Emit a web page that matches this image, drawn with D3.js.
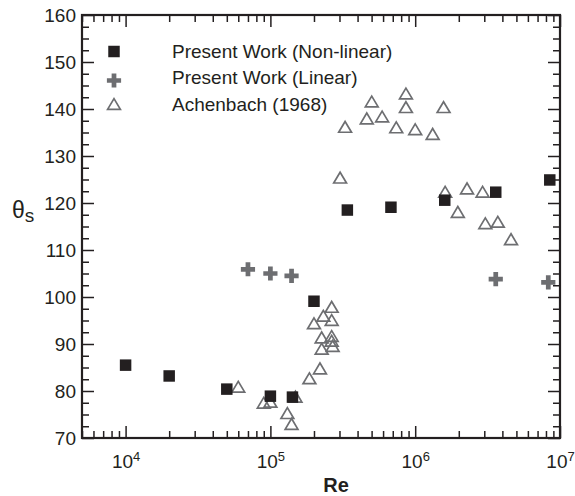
<!DOCTYPE html>
<html>
<head>
<meta charset="utf-8">
<script src="https://d3js.org/d3.v7.min.js"></script>
<style>
  html, body { margin: 0; padding: 0; background: #fff; }
  svg { display: block; font-family: "Liberation Sans", Arial, sans-serif; }
</style>
</head>
<body>
<svg id="chart" width="575" height="496"></svg>
<script>
// ---- Data ----
const nonlinearRe    = [1e4, 2e4, 5e4, 1e5, 1.42e5, 2e5, 3.4e5, 6.8e5, 1.6e6, 3.6e6, 8.5e6];
const nonlinearTheta = [85.5, 83.2, 80.4, 78.9, 78.7, 99.1, 118.5, 119.1, 120.6, 122.3, 124.9];

const linearRe    = [7e4, 1e5, 1.4e5, 3.6e6, 8.3e6];
const linearTheta = [105.9, 105.0, 104.5, 103.8, 103.1];

const achenbachRe = [6e4, 9e4, 1.0e5, 1.49e5, 1.31e5, 1.4e5, 1.86e5, 2.2e5,
  2.65e5, 2.32e5, 2.65e5, 2.0e5, 2.26e5, 2.65e5, 2.65e5, 2.69e5, 2.26e5,
  3.03e5, 3.28e5, 4.63e5, 5.01e5, 5.91e5, 7.4e5, 8.63e5, 8.63e5, 1.0e6, 1.32e6, 1.57e6,
  1.61e6, 2.28e6, 2.92e6, 1.97e6, 3.05e6, 3.72e6, 4.59e6];
const achenbachTheta = [80.9, 77.5, 77.7, 78.8, 75.3, 73.0, 82.7, 84.8,
  97.9, 96.0, 95.1, 94.4, 91.4, 91.7, 90.7, 89.6, 89.0,
  125.4, 136.2, 138.0, 141.6, 138.4, 136.1, 143.3, 140.4, 135.7, 134.7, 140.4,
  122.4, 123.1, 122.4, 118.1, 115.7, 116.0, 112.3];

const yMajorTicks = [70, 80, 90, 100, 110, 120, 130, 140, 150, 160];
const xMajorExps  = [4, 5, 6, 7];
const legendLabels = ["Present Work (Non-linear)", "Present Work (Linear)", "Achenbach (1968)"];

// ---- Layout ----
const W = 575, H = 496;
const L = 82, R = 560, T = 15, B = 438;
const ink = "#231f20", gray = "#6d6e71";

const svg = d3.select("#chart");
const x = d3.scaleLog().domain([5000, 1e7]).range([L, R]);
const y = d3.scaleLinear().domain([70, 160]).range([B, T]);

// minor ticks
const xMinor = [];
for (let e = 3; e <= 6; e++) for (let m = 1; m <= 9; m++) {
  const v = m * Math.pow(10, e);
  if (v >= 5000 && v <= 1e7 && m !== 1) xMinor.push(v);
}
const yMinor = d3.range(70, 160.01, 2.5).filter(v => v % 10 !== 0);

const majLen = 12, minLen = 7;

function styleAxis(g) {
  g.select(".domain").remove();
  g.selectAll(".tick line").attr("stroke", ink).attr("stroke-width", 1.5);
  g.selectAll(".tick text").attr("fill", ink);
}

// Left axis
const gl = svg.append("g").attr("transform", `translate(${L},0)`)
  .call(d3.axisLeft(y).tickValues(yMajorTicks).tickSize(-majLen).tickPadding(6).tickFormat(d3.format("d")));
gl.call(styleAxis);
gl.selectAll(".tick text").attr("font-size", 19);
svg.append("g").attr("transform", `translate(${L},0)`)
  .call(d3.axisLeft(y).tickValues(yMinor).tickSize(-minLen).tickFormat(""))
  .call(styleAxis);

// Right axis
svg.append("g").attr("transform", `translate(${R},0)`)
  .call(d3.axisRight(y).tickValues(yMajorTicks).tickSize(-majLen).tickFormat(""))
  .call(styleAxis);
svg.append("g").attr("transform", `translate(${R},0)`)
  .call(d3.axisRight(y).tickValues(yMinor).tickSize(-minLen).tickFormat(""))
  .call(styleAxis);

// Bottom axis
const xMajorVals = xMajorExps.map(e => Math.pow(10, e));
const gb = svg.append("g").attr("transform", `translate(0,${B})`)
  .call(d3.axisBottom(x).tickValues(xMajorVals).tickSize(-majLen).tickPadding(17).tickFormat(""));
gb.call(styleAxis);
gb.selectAll(".tick").each(function(d, i) {
  const t = d3.select(this).select("text")
    .attr("font-size", 19).attr("dy", "0.71em").attr("text-anchor", "middle");
  t.append("tspan").text("10");
  t.append("tspan").attr("font-size", 13).attr("dy", "-0.55em").text(xMajorExps[i]);
});
svg.append("g").attr("transform", `translate(0,${B})`)
  .call(d3.axisBottom(x).tickValues(xMinor).tickSize(-minLen).tickFormat(""))
  .call(styleAxis);

// Top axis
svg.append("g").attr("transform", `translate(0,${T})`)
  .call(d3.axisTop(x).tickValues(xMajorVals).tickSize(-majLen).tickFormat(""))
  .call(styleAxis);
svg.append("g").attr("transform", `translate(0,${T})`)
  .call(d3.axisTop(x).tickValues(xMinor).tickSize(-minLen).tickFormat(""))
  .call(styleAxis);

// Frame
svg.append("rect").attr("x", L).attr("y", T).attr("width", R - L).attr("height", B - T)
  .attr("fill", "none").attr("stroke", ink).attr("stroke-width", 2.2);

// Symbols
const triSym = { draw(ctx, size) { const w = 6.4, h = 5.4; ctx.moveTo(0, -h); ctx.lineTo(w, h); ctx.lineTo(-w, h); ctx.closePath(); } };
const sq = d3.symbol().type(d3.symbolSquare).size(132)();
const cross = d3.symbol().type(d3.symbolCross).size(112)();
const tri = d3.symbol().type(triSym)();

const plot = svg.append("g");

plot.selectAll(".ach").data(d3.zip(achenbachRe, achenbachTheta)).join("path")
  .attr("class", "ach").attr("d", tri)
  .attr("transform", d => `translate(${x(d[0])},${y(d[1])})`)
  .attr("fill", "none").attr("stroke", gray).attr("stroke-width", 1.7);

plot.selectAll(".nl").data(d3.zip(nonlinearRe, nonlinearTheta)).join("path")
  .attr("class", "nl").attr("d", sq)
  .attr("transform", d => `translate(${x(d[0])},${y(d[1])})`)
  .attr("fill", ink);

plot.selectAll(".lin").data(d3.zip(linearRe, linearTheta)).join("path")
  .attr("class", "lin").attr("d", cross)
  .attr("transform", d => `translate(${x(d[0])},${y(d[1])})`)
  .attr("fill", gray);

// Legend
const legend = svg.append("g");
const legY = [51.5, 80.5, 104];
const legSyms = [
  { d: sq, fill: ink, stroke: "none" },
  { d: cross, fill: gray, stroke: "none" },
  { d: tri, fill: "none", stroke: gray }
];
legendLabels.forEach((lab, i) => {
  legend.append("path").attr("d", legSyms[i].d)
    .attr("transform", `translate(114,${legY[i]})`)
    .attr("fill", legSyms[i].fill).attr("stroke", legSyms[i].stroke).attr("stroke-width", 1.7);
  legend.append("text").attr("x", 172).attr("y", [57.5, 84.3, 110.8][i])
    .attr("font-size", 19).attr("fill", ink).text(lab);
});

// Axis titles
svg.append("text").attr("x", 336).attr("y", 492).attr("text-anchor", "middle")
  .attr("font-size", 20).attr("font-weight", "bold").attr("fill", ink).text("Re");
const yt = svg.append("text").attr("x", 12).attr("y", 218).attr("fill", ink).attr("font-size", 23);
yt.append("tspan").text("θ");
yt.append("tspan").attr("font-size", 19).attr("dy", 4).text("s");
</script>
</body>
</html>
